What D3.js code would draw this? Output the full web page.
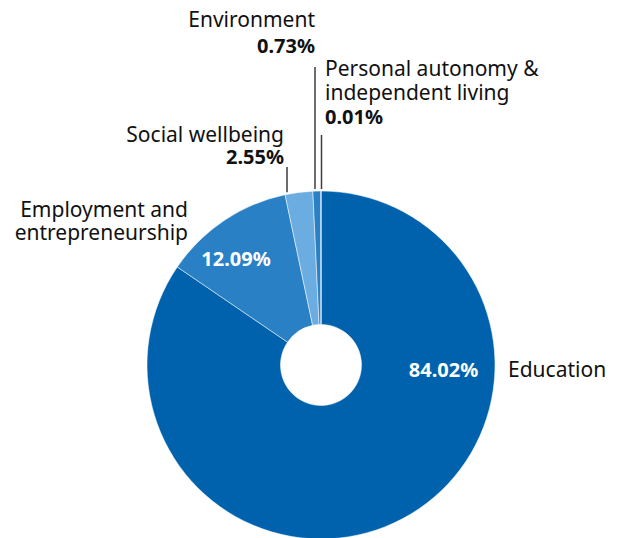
<!DOCTYPE html>
<html>
<head>
<meta charset="utf-8">
<script src="https://cdn.jsdelivr.net/npm/d3@7"></script>
<style>
  html, body { margin: 0; padding: 0; background: #fff; }
  svg { display: block; font-family: "Noto Sans", "Open Sans", sans-serif; }
</style>
</head>
<body>
<svg id="chart" width="619" height="538"></svg>
<script>
// Funding share by area (percent)
const categories = ["Education", "Employment and entrepreneurship", "Social wellbeing", "Environment", "Personal autonomy & independent living"];
const shares = [84.02, 12.09, 2.55, 0.73, 0.01];
const shareLabels = ["84.02%", "12.09%", "2.55%", "0.73%", "0.01%"];
const colors = ["#0062ad", "#2a80c5", "#6badE0", "#2a80c5", "#2a80c5"];

const svg = d3.select("#chart");
const cx = 321, cy = 365, outerR = 174, innerR = 40.5;
const nameSize = 21, valueSize = 20;

const data = categories.map((c, i) => ({ name: c, value: shares[i], label: shareLabels[i], color: colors[i] }));

const pie = d3.pie().value(d => d.value).sort(null);
const arcs = pie(data);
const arc = d3.arc().innerRadius(innerR).outerRadius(outerR);

const g = svg.append("g").attr("transform", `translate(${cx},${cy})`);

g.selectAll("path.slice")
  .data(arcs)
  .join("path")
  .attr("class", "slice")
  .attr("d", arc)
  .attr("fill", d => d.data.color)
  .attr("stroke", "#fff")
  .attr("stroke-width", 0.5);

// Values printed inside the two large slices
const inside = [
  { i: 0, x: 122.5, y: 12 },
  { i: 1, x: -85, y: -99 }
];
g.selectAll("text.inner")
  .data(inside)
  .join("text")
  .attr("class", "inner")
  .attr("x", d => d.x)
  .attr("y", d => d.y)
  .attr("text-anchor", "middle")
  .attr("fill", "#fff")
  .attr("font-size", valueSize)
  .attr("font-weight", 700)
  .text(d => arcs[d.i].data.label);

// Education name to the right of the ring
svg.append("text")
  .attr("x", 508)
  .attr("y", 377)
  .attr("font-size", nameSize)
  .attr("fill", "#111")
  .text(categories[0]);

// Employment name (two lines, right aligned)
const emp = svg.append("text")
  .attr("text-anchor", "end")
  .attr("font-size", nameSize)
  .attr("fill", "#111");
emp.append("tspan").attr("x", 188).attr("y", 217).text("Employment and");
emp.append("tspan").attr("x", 188).attr("y", 240).text("entrepreneurship");

// Callouts for the thin slices at the top
const callouts = [
  { i: 2, lineX: 287, lineTop: 167, anchor: "end", tx: 284,
    lines: [{ t: "Social wellbeing", y: 142 }, { t: shareLabels[2], y: 164, bold: true }] },
  { i: 3, lineX: 315, lineTop: 67, anchor: "end", tx: 315,
    lines: [{ t: "Environment", y: 27 }, { t: shareLabels[3], y: 53, bold: true }] },
  { i: 4, lineX: 321.5, lineTop: 135, anchor: "start", tx: 325,
    lines: [{ t: "Personal autonomy &", y: 76 }, { t: "independent living", y: 100 }, { t: shareLabels[4], y: 124, bold: true }] }
];

callouts.forEach(c => {
  const dx = c.lineX - cx;
  const yEdge = cy - Math.sqrt(outerR * outerR - dx * dx) - 2;
  svg.append("line")
    .attr("x1", c.lineX).attr("x2", c.lineX)
    .attr("y1", c.lineTop).attr("y2", yEdge)
    .attr("stroke", "#3c3c3c")
    .attr("stroke-width", 1.5);
  const t = svg.append("text")
    .attr("text-anchor", c.anchor)
    .attr("fill", "#111");
  c.lines.forEach(l => {
    t.append("tspan")
      .attr("x", c.tx)
      .attr("y", l.y)
      .attr("font-size", l.bold ? valueSize : nameSize)
      .attr("font-weight", l.bold ? 700 : 400)
      .text(l.t);
  });
});
</script>
</body>
</html>
